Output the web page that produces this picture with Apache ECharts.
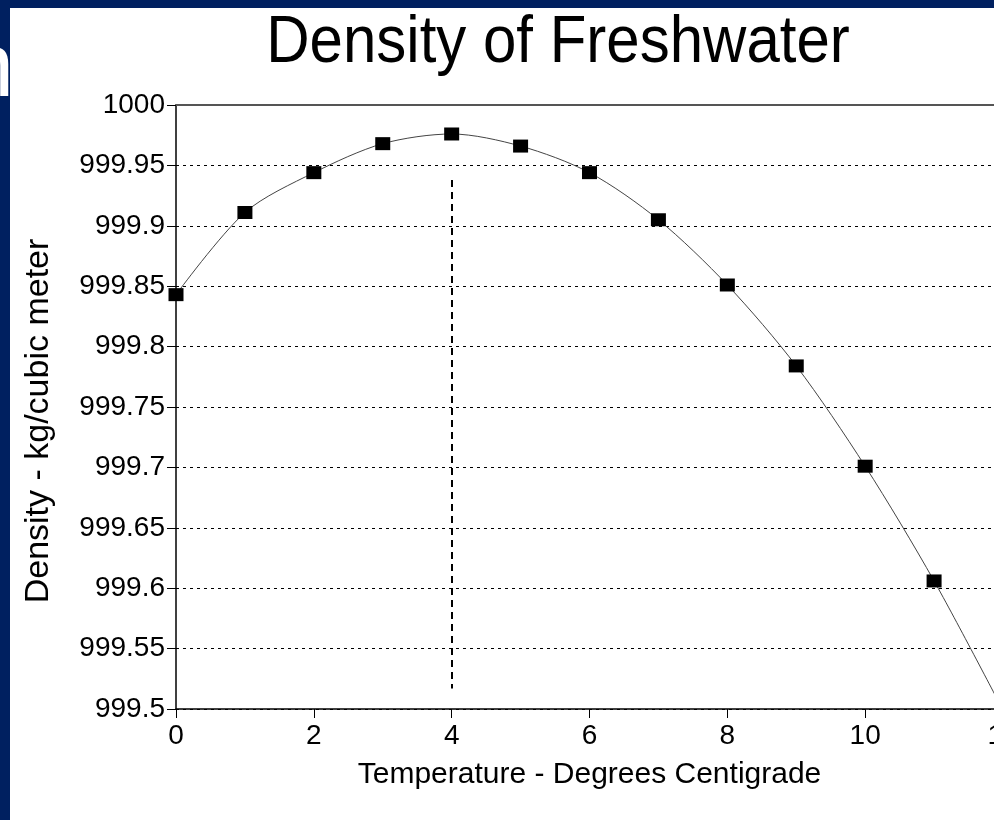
<!DOCTYPE html>
<html>
<head>
<meta charset="utf-8">
<title>Density of Freshwater</title>
<script src="https://cdn.jsdelivr.net/npm/echarts@6/dist/echarts.min.js"></script>
<style>
  html, body { margin: 0; padding: 0; background: #fff; }
  #chart { width: 994px; height: 820px; }
</style>
</head>
<body>
<div id="chart"></div>
<script>
// temperature (deg C) and density (kg/m3)
var temps = [0, 1, 2, 3, 4, 5, 6, 7, 8, 9, 10, 11, 12];
var density = [999.843, 999.911, 999.944, 999.968, 999.976, 999.966, 999.944,
               999.905, 999.851, 999.784, 999.701, 999.606, 999.499];

// dashed marker at the density maximum
var maxTemp = 4;
var maxLineFrom = 999.938;
var maxLineTo = 999.517;

var xRange = [0, 12];
var yRange = [999.5, 1000];

var FONT = '"Liberation Sans", Arial, Helvetica, sans-serif';

var chart = echarts.init(document.getElementById('chart'));

var points = [];
for (var i = 0; i < temps.length; i++) {
    points.push([temps[i], density[i]]);
}

var option = {
    backgroundColor: '#ffffff',
    animation: false,
    textStyle: { fontFamily: FONT, color: '#000' },
    graphic: [
        // slide frame
        { type: 'rect', left: 0, top: 0, z: 100, shape: { width: 10, height: 820 }, style: { fill: '#002060' } },
        { type: 'rect', left: 0, top: 0, z: 100, shape: { width: 994, height: 8 }, style: { fill: '#002060' } },
        // leftover of slide heading showing in the frame
        { type: 'text', x: -36, y: 26, z: 101,
          style: { text: 'n', font: '90px ' + FONT, fill: '#ffffff', align: 'left', verticalAlign: 'top' } },
        // chart title
        { type: 'text', x: 558, y: 44, z: 10, scaleY: 1.1, originX: 0, originY: 0,
          style: { text: 'Density of Freshwater', font: '60px ' + FONT, fill: '#000', align: 'center', verticalAlign: 'middle' } }
    ],
    grid: { left: 176, top: 105, right: -9, bottom: 111, containLabel: false, outerBoundsMode: 'none' },
    xAxis: [{
        type: 'value',
        min: xRange[0], max: xRange[1], interval: 2,
        name: 'Temperature - Degrees Centigrade',
        nameLocation: 'middle', nameGap: 51,
        nameTextStyle: { fontSize: 30, color: '#000', fontFamily: FONT },
        axisLine: { show: true, onZero: false, lineStyle: { color: '#000', width: 1.5 } },
        axisTick: { show: true, length: 9, lineStyle: { color: '#000', width: 1 } },
        axisLabel: { fontSize: 28, color: '#000', margin: 13, fontFamily: FONT },
        splitLine: { show: false }
    }, {
        // solid frame line across the top
        type: 'value', position: 'top',
        min: xRange[0], max: xRange[1],
        axisLine: { show: true, onZero: false, lineStyle: { color: '#555', width: 2 } },
        axisTick: { show: false }, axisLabel: { show: false }, splitLine: { show: false }
    }],
    yAxis: {
        type: 'value',
        min: yRange[0], max: yRange[1], interval: 0.05,
        name: 'Density - kg/cubic meter',
        nameLocation: 'middle', nameGap: 120,
        nameTextStyle: { fontSize: 34, color: '#000', fontFamily: FONT, padding: [0, 28, 0, 0] },
        axisLine: { show: true, onZero: false, lineStyle: { color: '#000', width: 1.5 } },
        axisTick: { show: true, length: 9, lineStyle: { color: '#000', width: 1 } },
        axisLabel: {
            fontSize: 28, color: '#000', margin: 11, fontFamily: FONT,
            formatter: function (v) { return String(Math.round(v * 100) / 100); }
        },
        splitLine: { show: true, lineStyle: { color: '#000', width: 1, type: [3, 4] } }
    },
    series: [{
        type: 'line',
        data: points,
        smooth: 0.3,
        symbol: 'rect',
        symbolSize: [15, 13],
        showSymbol: true,
        itemStyle: { color: '#000' },
        lineStyle: { color: '#444', width: 1 },
        z: 5,
        markLine: {
            silent: true,
            symbol: 'none',
            label: { show: false },
            lineStyle: { color: '#000', width: 2, type: [7, 5] },
            data: [[{ coord: [maxTemp, maxLineFrom] }, { coord: [maxTemp, maxLineTo] }]]
        }
    }]
};

chart.setOption(option);
</script>
</body>
</html>
